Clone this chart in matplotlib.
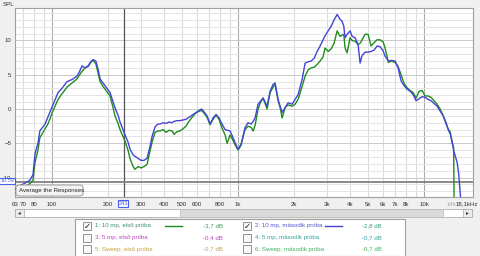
import numpy as np
import matplotlib.pyplot as plt
from matplotlib.patches import Rectangle, FancyBboxPatch
from matplotlib.ticker import NullLocator

plt.rcParams['font.family'] = ['Liberation Sans', 'DejaVu Sans']

# frequency grid (Hz)
freq = [63, 67, 70.7, 76, 79, 81, 84, 86, 89.4, 91.7,
        95, 97.6, 100, 103.8, 107.7, 113, 120.4, 128, 136.3, 140.7,
        145, 150.4, 156.2, 161.6, 166.1, 172, 176.8, 181.2, 188, 197.6,
        205, 212, 218, 227, 232, 247, 256, 263, 273, 279,
        290, 301, 312, 324, 336, 345, 358, 371, 381, 395,
        410, 426, 442, 453, 470, 487, 506, 525, 545, 566,
        587, 610, 636, 656, 681, 707, 734, 762, 790, 820,
        852, 873, 906, 940, 963, 1000, 1038, 1064, 1090, 1132,
        1175, 1206, 1234, 1281, 1315, 1363, 1432, 1486, 1543, 1581,
        1641, 1683, 1725, 1789, 1857, 1951, 2025, 2102, 2209, 2293,
        2379, 2470, 2563, 2660, 2760, 2864, 2934, 3049, 3168, 3280,
        3407, 3535, 3624, 3700, 3761, 3855, 4001, 4102, 4256, 4418,
        4528, 4642, 4817, 5000, 5188, 5384, 5588, 5799, 6020, 6170,
        6430, 6660, 6984, 7248, 7521, 7808, 8102, 8408, 8729, 9057,
        9400, 9754, 10124, 10507, 10904, 11316, 11743, 12190, 12657, 13134,
        13460, 13798, 14143, 14410, 14500, 14680, 15050, 15350, 15600, 15810]

# 1: 10 mp, első próba (green)
spl_1 = [-12.3, -11.8, -11.4, -10.9, -10.4, -7.8, -6.0, -4.2, -3.4, -2.9,
         -2.2, -1.4, -0.6, 0.4, 1.4, 2.2, 3.2, 3.8, 4.4, 5.0,
         5.5, 6.0, 6.2, 6.8, 7.1, 6.6, 5.2, 4.0, 3.3, 2.5,
         1.9, 0.4, -1.0, -2.2, -3.0, -4.7, -6.0, -7.3, -8.4, -8.8,
         -8.4, -8.6, -8.4, -8.1, -6.2, -4.8, -3.4, -3.2, -3.2, -3.0,
         -3.4, -3.1, -3.2, -3.7, -3.3, -3.2, -2.9, -2.5, -1.8, -1.2,
         -0.7, -0.4, -0.2, -0.6, -1.2, -2.3, -1.5, -0.9, -1.5, -2.8,
         -3.8, -5.0, -3.8, -4.6, -5.2, -6.0, -5.3, -4.0, -3.0, -2.5,
         -2.7, -3.2, -2.4, 0.0, 0.9, 1.6, 0.0, 2.4, 3.2, 3.6,
         1.2, 0.2, -1.3, 0.2, 0.6, 0.4, 0.7, 1.4, 3.3, 4.8,
         5.7, 6.0, 6.1, 6.5, 7.0, 7.6, 8.9, 8.4, 8.8, 9.6,
         11.4, 10.6, 10.8, 10.9, 8.9, 8.2, 10.4, 10.0, 9.9, 9.4,
         9.6, 10.1, 10.9, 10.9, 9.2, 9.7, 10.1, 10.1, 9.8, 8.9,
         6.8, 7.0, 6.8, 6.2, 5.0, 3.7, 3.1, 2.7, 2.4, 1.6,
         2.6, 2.7, 1.9, 1.9, 1.7, 1.2, 0.7, 0.0, -1.0, -2.2,
         -2.9, -3.3, -5.0, -5.6, -14.0, np.nan, np.nan, np.nan, np.nan, np.nan]

# 2: 10 mp, második próba (blue)
spl_2 = [-11.8, -11.2, -10.9, -10.4, -9.6, -6.5, -5.0, -3.2, -2.6, -2.2,
         -1.2, -0.4, 0.3, 1.4, 2.4, 3.0, 4.0, 4.3, 4.8, 5.5,
         6.3, 6.0, 6.3, 6.9, 7.2, 7.0, 5.8, 4.4, 3.8, 3.0,
         2.4, 1.2, 0.2, -1.0, -1.9, -3.8, -4.8, -5.9, -6.7, -6.9,
         -7.2, -7.5, -7.5, -7.2, -5.5, -4.0, -2.6, -2.2, -2.2, -2.0,
         -2.1, -1.9, -2.0, -1.8, -1.7, -1.7, -1.6, -1.5, -1.2, -0.9,
         -0.6, -0.3, 0.0, -0.4, -1.0, -2.2, -1.3, -0.8, -1.3, -2.2,
         -3.0, -3.1, -3.2, -4.2, -4.9, -5.9, -5.1, -4.0, -2.7, -2.0,
         -2.2, -1.8, -1.3, 0.7, 1.1, 1.6, 0.4, 2.6, 3.6, 3.8,
         1.4, 0.4, -0.5, 0.2, 0.9, 0.7, 1.4, 2.1, 4.3, 6.7,
         6.9, 7.0, 7.4, 8.4, 9.2, 10.1, 10.7, 11.4, 12.1, 13.0,
         13.8, 13.1, 12.8, 12.1, 10.4, 10.9, 11.4, 10.6, 10.4, 9.4,
         6.7, 7.8, 8.3, 8.3, 8.4, 8.6, 9.2, 9.1, 8.5, 7.7,
         7.0, 7.1, 7.0, 6.0, 4.1, 3.4, 2.9, 2.6, 2.1, 1.2,
         1.5, 1.8, 1.7, 1.4, 1.2, 0.8, 0.4, -0.3, -1.0, -2.0,
         -3.0, -3.6, -4.7, -6.1, -6.3, -6.8, -7.8, -9.5, -12.0, -14.0]

tick_freqs = [63, 70, 80, 100, 200, 300, 400, 500, 600, 800, 1000,
              2000, 3000, 4000, 5000, 6000, 7000, 8000, 10000, 14000]
tick_labels = ["63", "70", "80", "100", "200", "300", "400", "500", "600", "800", "1k",
               "2k", "3k", "4k", "5k", "6k", "7k", "8k", "10k", "14k"]
end_label = "18,1kHz"
y_ticks = [-10, -5, 0, 5, 10]

cursor_freq = 243
cursor_spl = -10.59

# legend table
names = ["1: 10 mp, első próba", "2: 10 mp, második próba",
         "3: 5 mp, első próba", "4: 5 mp, második próba",
         "5: Sweep, első próba", "6: Sweep, második próba"]
levels = ["-3,7 dB", "-2,8 dB", "-0,4 dB", "-0,7 dB", "-0,7 dB", "-0,7 dB"]
checked = [True, True, False, False, False, False]
name_colors = ["#3c9070", "#5858d0", "#c040c0", "#30a0a0", "#c8a040", "#40b060"]
level_colors = ["#3c9a50", "#30a080", "#c040c0", "#30a0a0", "#c8a040", "#40b060"]
line_colors = ["#1e8c1e", "#4444d8"]

W, H = 480, 256
def fx(px):
    return px / W
def fy(py):
    return 1 - py / H

FS = 4.4

fig = plt.figure(figsize=(4.8, 2.56), dpi=100, facecolor="#f0f0f0")
ax = fig.add_axes([fx(14.7), fy(196.7), fx(472.5) - fx(14.7), fy(8.3) - fy(196.7)])
ax.set_facecolor("white")
ax.set_xscale("log")
ax.set_xlim(63, 18200)
ax.set_ylim(-12.8, 14.7)

# grid
for f in [70, 80, 90] + [k * 100 for k in range(2, 10)] + [k * 1000 for k in range(2, 10)]:
    ax.axvline(f, color="#dcdcdc", lw=0.8, zorder=0)
for f in [100, 1000, 10000]:
    ax.axvline(f, color="#a8a8a8", lw=0.8, zorder=0)
for v in range(-12, 15):
    ax.axhline(v, color="#e4e4e4" if v % 5 else "#c8c8c8", lw=0.7, zorder=0)

# cursor
ax.axvline(cursor_freq, color="#555555", lw=0.9, zorder=1)
ax.axhline(cursor_spl, color="#808080", lw=1.3, zorder=1)

ax.plot(freq, spl_1, color=line_colors[0], lw=1.0, zorder=3)
ax.plot(freq, spl_2, color=line_colors[1], lw=1.0, zorder=4)

ax.xaxis.set_minor_locator(NullLocator())
ax.set_xticks(tick_freqs)
ax.set_xticklabels(tick_labels)
ax.set_yticks(y_ticks)
ax.tick_params(length=0, labelsize=FS, labelcolor="#333333", pad=4)
ax.tick_params(axis="y", pad=2.5)
ax.get_xticklabels()[tick_labels.index("14k")].set_color("#aaaaaa")
for s in ax.spines.values():
    s.set_color("#a0a0a0")
    s.set_linewidth(0.8)

fig.text(fx(478), fy(203.5), end_label, fontsize=FS, color="#333333", ha="right", va="center")
fig.text(fx(3), fy(5), "SPL", fontsize=FS, color="#333333", va="center")

# cursor labels
box = dict(boxstyle="square,pad=0.12", fc="white", ec="#4a5ee8", lw=0.8)
fig.text(fx(7), fy(181), "10.59", fontsize=4, color="#4a5ee8", ha="center", va="center", bbox=box)
fig.text(fx(123), fy(203.5), "243", fontsize=4, color="#4a5ee8", ha="center", va="center", bbox=box)

# button
fig.patches.append(FancyBboxPatch((fx(16), fy(196)), fx(67), fy(185) - fy(196),
                                  boxstyle="round,pad=0,rounding_size=0.008",
                                  transform=fig.transFigure, fc="#f4f4f4", ec="#9a9a9a", lw=0.7))
fig.text(fx(19), fy(190.5), "Average the Responses", fontsize=FS, color="#222222", va="center")

# scrollbar
fig.patches.append(Rectangle((fx(15), fy(217)), fx(457), fy(209) - fy(217),
                             transform=fig.transFigure, fc="white", ec="#b0b0b0", lw=0.6))
fig.patches.append(Rectangle((fx(180), fy(217)), fx(263), fy(209) - fy(217),
                             transform=fig.transFigure, fc="#dadada", ec="#b8b8b8", lw=0.5))
for bx, arrow in [(15, "◂"), (463, "▸")]:
    fig.patches.append(Rectangle((fx(bx), fy(217)), fx(9), fy(209) - fy(217),
                                 transform=fig.transFigure, fc="#ececec", ec="#a8a8a8", lw=0.5))
    fig.text(fx(bx + 4.5), fy(213), arrow, fontsize=4, color="#333333", ha="center", va="center",
             family="DejaVu Sans")

# legend panel
fig.patches.append(Rectangle((fx(75), fy(256)), fx(330), fy(219) - fy(256),
                             transform=fig.transFigure, fc="white", ec="#a0a0a0", lw=0.8))
row_y = [226, 237.5, 249]
col_x = [87, 247]
line_x = [(165, 182), (325, 342)]
level_x = [223, 382]
for i, name in enumerate(names):
    r, c = i // 2, i % 2
    y = row_y[r]
    fig.patches.append(Rectangle((fx(col_x[c] - 4), fy(y + 4)), fx(8), fy(y - 4) - fy(y + 4),
                                 transform=fig.transFigure, fc="#f8f8f8", ec="#808080", lw=0.6))
    if checked[i]:
        fig.text(fx(col_x[c]), fy(y), "✓", fontsize=6, color="#222222", ha="center", va="center",
                 family="DejaVu Sans")
        fig.lines.append(plt.Line2D([fx(line_x[c][0]), fx(line_x[c][1])], [fy(y), fy(y)],
                                    transform=fig.transFigure, color=line_colors[c], lw=1.0))
    fig.text(fx(col_x[c] + 8), fy(y), name, fontsize=FS, color=name_colors[i], va="center")
    fig.text(fx(level_x[c]), fy(y), levels[i], fontsize=FS, color=level_colors[i], ha="right", va="center")

fig.savefig("out.png", dpi=100, facecolor=fig.get_facecolor())
